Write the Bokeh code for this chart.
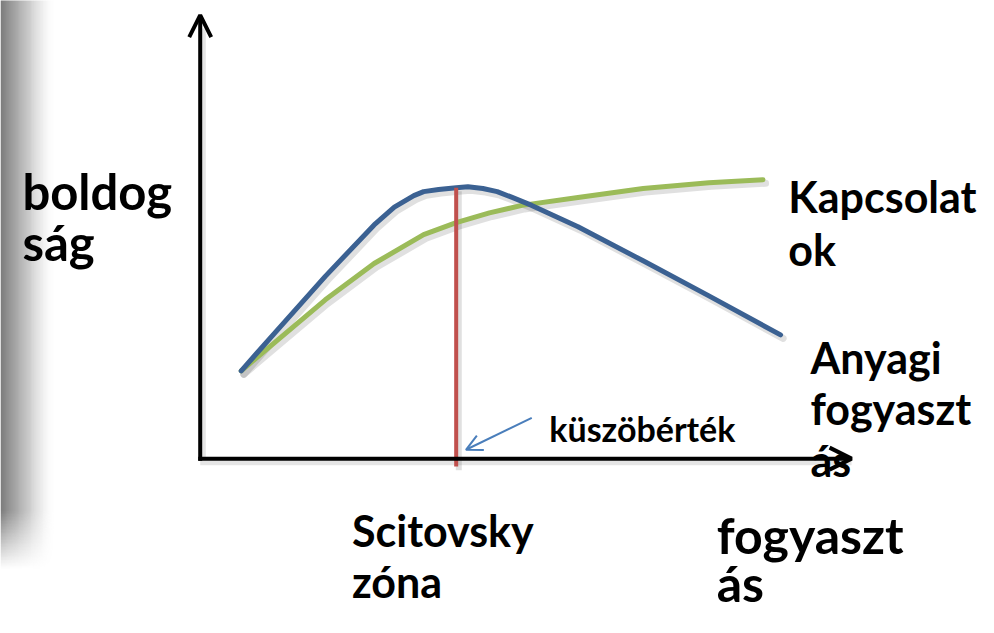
import numpy as np
from bokeh.plotting import figure
from bokeh.models import Range1d, Arrow, OpenHead, ColumnDataSource
from bokeh.core.properties import value
from bokeh.embed import file_html
from bokeh.resources import INLINE

# ---- data (concept diagram units: consumption on x, happiness on y) ----
blue_x = [0.63, 1.16, 1.92, 2.67, 2.98, 3.28, 3.43, 3.66, 3.93, 4.11, 4.34, 4.56, 4.79, 5.09, 5.80, 6.80, 7.81, 8.91]
blue_y = [1.98, 2.86, 4.11, 5.27, 5.67, 5.93, 6.02, 6.07, 6.11, 6.13, 6.09, 6.02, 5.89, 5.71, 5.23, 4.46, 3.67, 2.79]
green_x = [0.63, 1.16, 1.92, 2.67, 3.43, 3.93, 4.44, 4.94, 5.80, 6.80, 7.81, 8.64]
green_y = [1.98, 2.64, 3.58, 4.40, 5.05, 5.32, 5.54, 5.71, 5.89, 6.09, 6.22, 6.29]
threshold_x = 3.93
threshold_top = 6.11
threshold_bottom = -0.18
axis_x_max = 10.0
axis_y_max = 10.0
pointer_start = (5.09, 0.92)
pointer_end = (4.08, 0.20)

label_text = ["boldog", "ság", "Kapcsolat", "ok", "Anyagi", "fogyaszt", "ás",
              "Scitovsky", "zóna", "fogyaszt", "ás", "küszöbérték"]
label_x = [-2.73, -2.73, 9.03, 9.03, 9.37, 9.37, 9.37, 2.33, 2.33, 7.93, 7.93, 5.36]
label_y = [6.03, 4.88, 5.92, 4.71, 2.29, 1.13, -0.04, -1.62, -2.78, -1.73, -2.81, 0.68]
label_size = ["49px", "49px", "43px", "43px", "43px", "43px", "43px",
              "43px", "43px", "50px", "50px", "34px"]

# ---- figure ----
p = figure(width=978, height=617, output_backend="svg", toolbar_location=None,
           x_range=Range1d(-3.066, 11.949), y_range=Range1d(-3.582, 10.33),
           min_border=0, outline_line_color=None, background_fill_color="white",
           border_fill_color="white")
p.axis.visible = False
p.grid.visible = False

# left slide shadow (decoration)
nx, ny = 60, 400
xs = np.linspace(0, 1, nx)
ys = np.linspace(0, 1, ny)
gray = (125 + (255 - 125) * np.clip(xs, 0, 1) ** 0.9).astype(np.uint32)
alpha_y = np.clip(ys / 0.1, 0, 1)
img = np.zeros((ny, nx), dtype=np.uint32)
view = img.view(dtype=np.uint8).reshape((ny, nx, 4))
for j in range(ny):
    view[j, :, 0] = gray
    view[j, :, 1] = gray
    view[j, :, 2] = gray
    view[j, :, 3] = (255 * alpha_y[j] * (1 - xs ** 3)).astype(np.uint8)
p.image_rgba(image=[img], x=-3.066, y=-2.5, dw=0.85, dh=13.0)

# soft drop shadows (decoration: offset a few pixels down-right)
sdx, sdy = 0.04, -0.08
shadow = dict(line_color="#000000", line_alpha=0.12, line_width=7, line_join="round", line_cap="round")
p.line([v + sdx for v in green_x], [v + sdy for v in green_y], **shadow)
p.line([v + sdx for v in blue_x], [v + sdy for v in blue_y], **shadow)
p.segment(x0=[threshold_x + sdx], y0=[threshold_top + sdy], x1=[threshold_x + sdx],
          y1=[threshold_bottom + sdy], line_color="#000000", line_alpha=0.12, line_width=6)
p.segment(x0=[sdx, 0], y0=[0, sdy], x1=[sdx, axis_x_max], y1=[axis_y_max - 0.3, sdy],
          line_color="#000000", line_alpha=0.1, line_width=6)

# curves
p.line(green_x, green_y, line_color="#9bbb59", line_width=5, line_join="round", line_cap="round")
p.line(blue_x, blue_y, line_color="#3b6192", line_width=5, line_join="round", line_cap="round")
p.segment(x0=[threshold_x], y0=[threshold_top], x1=[threshold_x], y1=[threshold_bottom],
          line_color="#c0504d", line_width=4)

# pointer arrow
p.add_layout(Arrow(end=OpenHead(size=16, line_width=2, line_color="#4a7ebb"),
                   x_start=pointer_start[0], y_start=pointer_start[1],
                   x_end=pointer_end[0], y_end=pointer_end[1],
                   line_color="#4a7ebb", line_width=2))

# labels
src = ColumnDataSource(dict(x=label_x, y=label_y, text=label_text, size=label_size))
p.text(x="x", y="y", text="text", source=src, text_font=value("Lato"),
       text_font_style="bold", text_font_size="size", text_color="black",
       text_baseline="alphabetic", text_align="left")

# axes with arrowheads
p.add_layout(Arrow(end=OpenHead(size=22, line_width=4, line_color="black"),
                   x_start=0, y_start=-0.05, x_end=0, y_end=axis_y_max,
                   line_color="black", line_width=4))
p.add_layout(Arrow(end=OpenHead(size=22, line_width=4, line_color="black"),
                   x_start=-0.03, y_start=0, x_end=axis_x_max, y_end=0,
                   line_color="black", line_width=4))

open("out.html", "w").write(file_html(p, INLINE))
